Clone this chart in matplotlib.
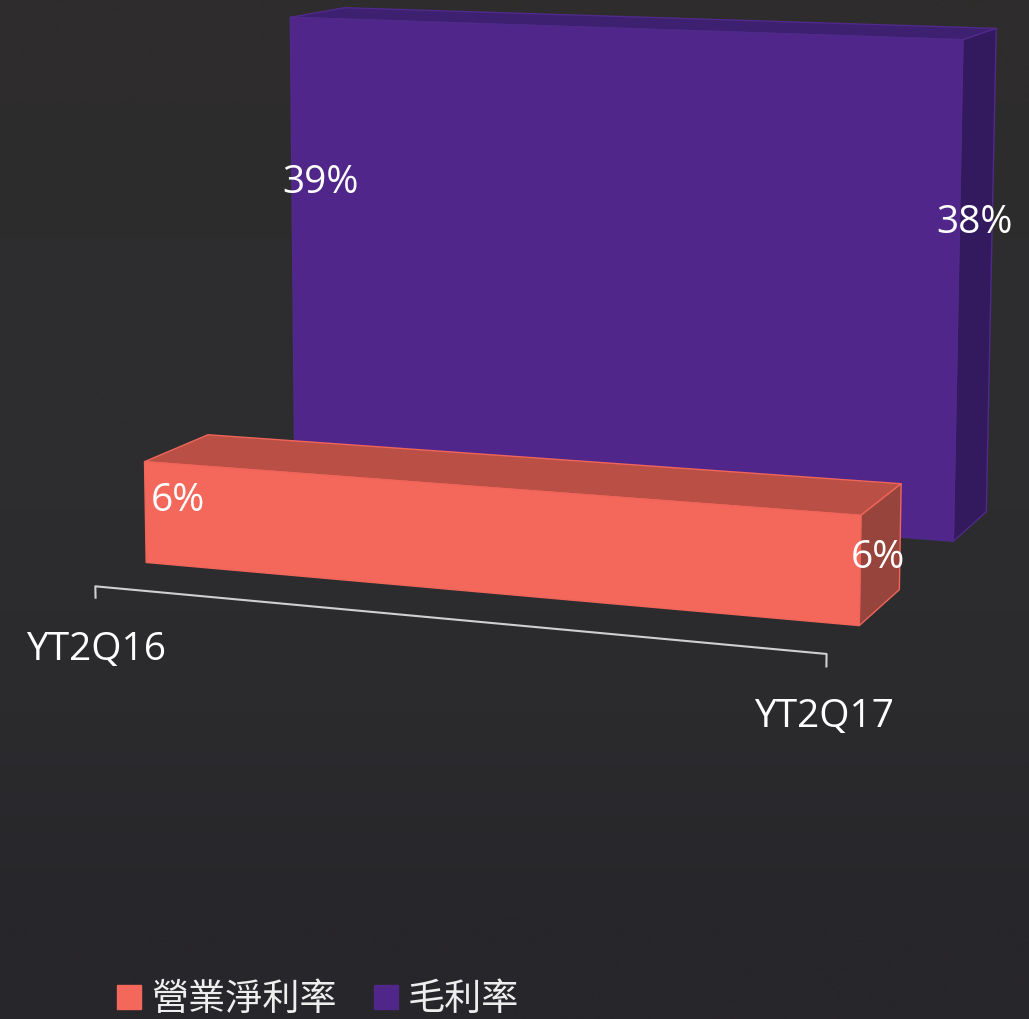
import matplotlib
matplotlib.use("Agg")
import matplotlib.pyplot as plt
import numpy as np
from matplotlib.patches import Patch
from mpl_toolkits.mplot3d.art3d import Poly3DCollection

categories = ["YT2Q16", "YT2Q17"]
series_names = ["營業淨利率", "毛利率"]
net_margin = [6, 6]
gross_margin = [39, 38]
value_labels_net = ["6%", "6%"]
value_labels_gross = ["39%", "38%"]

W, H = 1029, 1019
plt.rcParams['font.family'] = ['Open Sans', 'Noto Sans CJK TC', 'DejaVu Sans']
fig = plt.figure(figsize=(W / 100, H / 100), dpi=100, facecolor="#2d2d2f")

# faint vertical shading of the dark background
bg = fig.add_axes([0, 0, 1, 1])
bg.set_axis_off()
shade = np.array([[[46, 44, 44]], [[45, 45, 47]], [[45, 45, 47]], [[43, 43, 46]], [[39, 38, 42]]]) / 255
bg.imshow(shade, aspect="auto", interpolation="bilinear", extent=(0, 1, 0, 1))

# camera worked out from the corners in the reference
ax = fig.add_axes([-445.17467 / W, 172.21522 / H, 1, 1], projection="3d")
ax.set_axis_off()
ax.patch.set_visible(False)
ax.computed_zorder = False
ax.view_init(elev=8.82598, azim=-63.73128, roll=1.08727)
ax.set_proj_type("persp", focal_length=float(np.exp(-0.43769)))

gap, depth, base, yaxis = 1.48578, 1.00034, -2.15512, -0.74541
tick = 0.9


def box(vals, y0, y1, front, top, side, edge, z):
    x = [0, 1]
    fr = [(x[0], y0, base), (x[1], y0, base), (x[1], y0, vals[1]), (x[0], y0, vals[0])]
    tp = [(x[0], y0, vals[0]), (x[1], y0, vals[1]), (x[1], y1, vals[1]), (x[0], y1, vals[0])]
    sd = [(x[1], y0, base), (x[1], y1, base), (x[1], y1, vals[1]), (x[1], y0, vals[1])]
    for i, (f, col) in enumerate(zip([tp, sd, fr], [top, side, front])):
        pc = Poly3DCollection([f], facecolors=col, edgecolors=edge, linewidths=1, zorder=z + i)
        ax.add_collection3d(pc, autolim=False)
        pc.set_clip_on(False)


box(gross_margin, 1 + gap, 1 + gap + depth, "#50268a", "#3d2170", "#33195e", "#4f2a8a", 2)
box(net_margin, 0, 1, "#f4675b", "#b94f45", "#97443c", "#f0655a", 6)

ax.plot([0, 0, 1, 1], [yaxis] * 4, [base - tick, base, base, base - tick], color="#d0d0d0", lw=1.5, zorder=1, clip_on=False)

ax.set_xlim(-0.35291, 0.49118)
ax.set_ylim(-3.45931, 0.46128)
ax.set_zlim(1.88896, 38.01711)


def label(s, x, y):
    fig.text(x / W, 1 - y / H, s, color="white", fontsize=28, ha="center", va="center")


label(value_labels_gross[0], 320, 183)
label(value_labels_gross[1], 975, 223)
label(value_labels_net[0], 178, 501)
label(value_labels_net[1], 878, 558)
label(categories[0], 96, 650)
label(categories[1], 824, 717)

handles = [Patch(color="#f4675b"), Patch(color="#50268a")]
fig.legend(handles, series_names, ncol=2, frameon=False, loc="lower left", fontsize=26.7, labelcolor="#eeeeee",
           bbox_to_anchor=(116.5 / W, 0), handlelength=0.65, handleheight=0.65, handletextpad=0.28, columnspacing=1.0,
           borderpad=0, borderaxespad=0)

fig.savefig("out.png", dpi=100, facecolor=fig.get_facecolor())
